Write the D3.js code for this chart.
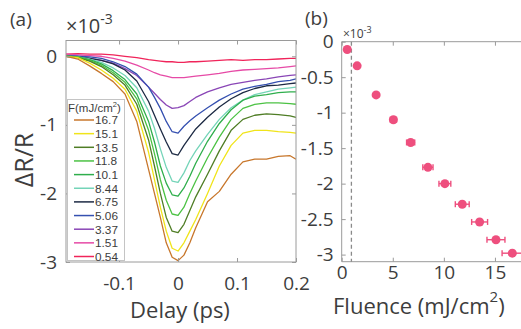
<!DOCTYPE html>
<html>
<head>
<meta charset="utf-8">
<script src="https://cdn.jsdelivr.net/npm/d3@7"></script>
<style>
  body { margin: 0; background: #fff; }
  svg { display: block; font-family: "Open Sans", sans-serif; }
</style>
</head>
<body>
<svg id="chart" width="521" height="329"></svg>
<script>
// ---- data (a): transient reflectivity, x1e-3 ----
var delays = [-0.19, -0.17, -0.15, -0.13, -0.11, -0.09, -0.07, -0.05, -0.04, -0.03, -0.02, -0.01, 0,
  0.01, 0.02, 0.03, 0.05, 0.07, 0.09, 0.11, 0.13, 0.15, 0.17, 0.19, 0.2];

var dR_0p54 = [0.03, 0.04, 0.03, 0.03, 0.02, 0.0, -0.02, -0.05, -0.06, -0.07, -0.08, -0.08, -0.09, -0.09, -0.08, -0.08, -0.07, -0.06, -0.05, -0.06, -0.05, -0.05, -0.04, -0.03, -0.03];
var dR_1p51 = [0.03, 0.02, 0.01, 0.0, -0.03, -0.07, -0.13, -0.2, -0.24, -0.27, -0.29, -0.31, -0.31, -0.31, -0.3, -0.29, -0.27, -0.25, -0.22, -0.2, -0.19, -0.18, -0.17, -0.15, -0.14];
var dR_3p37 = [0.01, 0.0, -0.03, -0.06, -0.1, -0.18, -0.28, -0.45, -0.54, -0.63, -0.71, -0.76, -0.75, -0.72, -0.66, -0.6, -0.52, -0.46, -0.41, -0.38, -0.35, -0.33, -0.3, -0.28, -0.27];
var dR_5p06 = [0.01, 0.0, -0.01, -0.03, -0.08, -0.15, -0.26, -0.45, -0.6, -0.76, -0.95, -1.1, -1.12, -1.02, -0.94, -0.87, -0.75, -0.64, -0.55, -0.48, -0.44, -0.41, -0.37, -0.35, -0.33];
var dR_6p75 = [0.0, -0.01, -0.03, -0.06, -0.11, -0.2, -0.36, -0.66, -0.86, -1.06, -1.25, -1.42, -1.44, -1.3, -1.18, -1.06, -0.89, -0.74, -0.62, -0.53, -0.47, -0.43, -0.42, -0.4, -0.39];
var dR_8p44 = [0.0, -0.01, -0.04, -0.09, -0.17, -0.28, -0.46, -0.8, -1.05, -1.35, -1.62, -1.82, -1.84, -1.7, -1.52, -1.38, -1.14, -0.92, -0.75, -0.64, -0.56, -0.52, -0.48, -0.46, -0.45];
var dR_10p1 = [0.0, -0.01, -0.05, -0.11, -0.21, -0.34, -0.55, -0.95, -1.25, -1.6, -1.85, -2.02, -2.04, -1.92, -1.75, -1.56, -1.24, -0.98, -0.78, -0.64, -0.58, -0.56, -0.53, -0.52, -0.52];
var dR_11p8 = [0.0, -0.01, -0.06, -0.13, -0.24, -0.38, -0.62, -1.08, -1.42, -1.8, -2.1, -2.3, -2.32, -2.2, -2.0, -1.82, -1.48, -1.18, -0.92, -0.76, -0.7, -0.68, -0.68, -0.69, -0.7];
var dR_13p5 = [0.0, -0.02, -0.07, -0.15, -0.27, -0.42, -0.7, -1.22, -1.6, -2.0, -2.35, -2.55, -2.57, -2.45, -2.25, -2.05, -1.72, -1.38, -1.08, -0.92, -0.86, -0.84, -0.85, -0.87, -0.89];
var dR_15p1 = [0.0, -0.02, -0.1, -0.2, -0.32, -0.48, -0.8, -1.4, -1.8, -2.2, -2.55, -2.8, -2.84, -2.72, -2.55, -2.38, -2.0, -1.6, -1.3, -1.12, -1.08, -1.08, -1.1, -1.11, -1.12];
var dR_16p7 = [0.0, -0.04, -0.14, -0.25, -0.37, -0.55, -0.95, -1.65, -2.0, -2.35, -2.72, -2.93, -2.98, -2.9, -2.72, -2.5, -2.12, -1.97, -1.72, -1.54, -1.5, -1.5, -1.46, -1.45, -1.5];

var legendLabels = ["16.7", "15.1", "13.5", "11.8", "10.1", "8.44", "6.75", "5.06", "3.37", "1.51", "0.54"];
var curves = [dR_16p7, dR_15p1, dR_13p5, dR_11p8, dR_10p1, dR_8p44, dR_6p75, dR_5p06, dR_3p37, dR_1p51, dR_0p54];
var colors = ["#c8772c", "#f0e41a", "#4f7d25", "#4cc244", "#2fae4c", "#74d4b8", "#1d2a44", "#3550b0", "#8a46b6", "#e64aa6", "#f0245a"];

var xTicksA = [-0.1, 0, 0.1, 0.2];
var yTicksA = [-3, -2, -1, 0];

// ---- data (b): peak dR/R vs fluence ----
var fluence = [0.54, 1.51, 3.37, 5.06, 6.75, 8.44, 10.1, 11.8, 13.5, 15.1, 16.7];
var peakDR = [-0.11, -0.34, -0.75, -1.10, -1.42, -1.77, -2.00, -2.29, -2.54, -2.79, -2.98];
var fluenceErr = [0.05, 0.12, 0.22, 0.3, 0.4, 0.5, 0.58, 0.68, 0.78, 0.88, 1.0];
var threshold = 0.95;
var xTicksB = [0, 5, 10, 15];
var yTicksB = [-3, -2.5, -2, -1.5, -1, -0.5, 0];

var svg = d3.select("#chart");
var axisGrey = "#9a9a9a", textGrey = "#3d3d3d";

function styleAxis(g, size) {
  g.select(".domain").remove();
  g.selectAll("line").attr("stroke", axisGrey);
  g.selectAll("text").attr("fill", textGrey).style("font-size", size + "px").style("font-family", "Open Sans");
}

// ================= panel (a) =================
var xA = d3.scaleLinear().domain([-0.19, 0.2]).range([66, 296]);
var yA = d3.scaleLinear().domain([-3, 0.23]).range([262, 40.5]);

svg.append("defs").append("clipPath").attr("id", "clipA")
  .append("rect").attr("x", 66).attr("y", 40.5).attr("width", 230).attr("height", 221.5);

var line = d3.line().x(function (d, i) { return xA(delays[i]); }).y(function (d) { return yA(d); });

svg.append("g").attr("clip-path", "url(#clipA)")
  .selectAll("path").data(curves.slice().reverse()).enter().append("path")
  .attr("d", line)
  .attr("fill", "none")
  .attr("stroke", function (d, i) { return colors[colors.length - 1 - i]; })
  .attr("stroke-width", 1.3)
  .attr("stroke-linejoin", "round");

svg.append("g").attr("transform", "translate(0,262)")
  .call(d3.axisBottom(xA).tickValues(xTicksA).tickSize(-4).tickPadding(15).tickFormat(function (d) { return String(d); }))
  .call(styleAxis, 19);
svg.append("g").attr("transform", "translate(0,40.5)")
  .call(d3.axisTop(xA).tickValues(xTicksA).tickSize(-4).tickFormat(""))
  .call(styleAxis, 19);
svg.append("g").attr("transform", "translate(66,0)")
  .call(d3.axisLeft(yA).tickValues(yTicksA).tickSize(-4).tickPadding(9).tickFormat(function (d) { return String(d); }))
  .call(styleAxis, 19);
svg.append("g").attr("transform", "translate(296,0)")
  .call(d3.axisRight(yA).tickValues(yTicksA).tickSize(-4).tickFormat(""))
  .call(styleAxis, 19);

svg.append("rect").attr("x", 66).attr("y", 40.5).attr("width", 230).attr("height", 221.5)
  .attr("fill", "none").attr("stroke", axisGrey).attr("stroke-width", 1);

// legend
var leg = svg.append("g").style("font-family", "'Liberation Sans', Arial, sans-serif");
leg.append("rect").attr("x", 67.5).attr("y", 99.5).attr("width", 57).attr("height", 161)
  .attr("fill", "#fff").attr("stroke", "#c4c4c4");
var lt = leg.append("text").attr("x", 68).attr("y", 111.5).attr("fill", textGrey).style("font-size", "11.5px");
lt.append("tspan").text("F(mJ/cm");
lt.append("tspan").text("2").attr("dy", -5).style("font-size", "7.5px");
lt.append("tspan").text(")").attr("dy", 5);
var le = leg.selectAll(".le").data(legendLabels).enter().append("g")
  .attr("transform", function (d, i) { return "translate(0," + (120 + i * 13.65) + ")"; });
le.append("line").attr("x1", 74).attr("x2", 94).attr("stroke", function (d, i) { return colors[i]; }).attr("stroke-width", 1.5);
le.append("text").attr("x", 95).attr("y", 4.3).text(function (d) { return d; })
  .attr("fill", textGrey).style("font-size", "11.8px");

svg.append("text").attr("x", 10).attr("y", 26).text("(a)").attr("fill", textGrey).style("font-size", "19px");
var ea = svg.append("text").attr("x", 66).attr("y", 33).attr("fill", textGrey).style("font-size", "20px");
ea.append("tspan").text("\u00d710");
ea.append("tspan").text("-3").attr("dy", -9).style("font-size", "14px");

svg.append("text").attr("transform", "translate(33,160) rotate(-90)").attr("text-anchor", "middle")
  .text("\u0394R/R").attr("fill", textGrey).style("font-size", "25px");
svg.append("text").attr("x", 180).attr("y", 318).attr("text-anchor", "middle")
  .text("Delay (ps)").attr("fill", textGrey).style("font-size", "22px");

// ================= panel (b) =================
var xB = d3.scaleLinear().domain([0, 17.6]).range([341.7, 521.5]);
var yB = d3.scaleLinear().domain([-3.1, 0]).range([261.7, 41.7]);

svg.append("g").attr("transform", "translate(0,261.7)")
  .call(d3.axisBottom(xB).tickValues(xTicksB).tickSize(-4).tickPadding(4).tickFormat(function (d) { return String(d); }))
  .call(styleAxis, 19);
svg.append("g").attr("transform", "translate(0,41.7)")
  .call(d3.axisTop(xB).tickValues(xTicksB).tickSize(-4).tickFormat(""))
  .call(styleAxis, 19);
svg.append("g").attr("transform", "translate(341.7,0)")
  .call(d3.axisLeft(yB).tickValues(yTicksB).tickSize(-4).tickPadding(8).tickFormat(function (d) { return String(d); }))
  .call(styleAxis, 19);

svg.append("path")
  .attr("d", "M341.7,41.7H522M341.7,41.7V261.7H522")
  .attr("fill", "none").attr("stroke", axisGrey);

svg.append("line").attr("x1", xB(threshold)).attr("x2", xB(threshold)).attr("y1", yB(0)).attr("y2", yB(-3.1))
  .attr("stroke", "#8a8a8a").attr("stroke-width", 1.3).attr("stroke-dasharray", "4,3");

var pink = "#ee4f7e";
var pts = svg.append("g").selectAll("g").data(fluence).enter().append("g");
pts.append("line")
  .attr("x1", function (d, i) { return xB(d - fluenceErr[i]); })
  .attr("x2", function (d, i) { return xB(d + fluenceErr[i]); })
  .attr("y1", function (d, i) { return yB(peakDR[i]); })
  .attr("y2", function (d, i) { return yB(peakDR[i]); })
  .attr("stroke", pink).attr("stroke-width", 1.4);
[-1, 1].forEach(function (s) {
  pts.append("line")
    .attr("x1", function (d, i) { return xB(d + s * fluenceErr[i]); })
    .attr("x2", function (d, i) { return xB(d + s * fluenceErr[i]); })
    .attr("y1", function (d, i) { return yB(peakDR[i]) - 3; })
    .attr("y2", function (d, i) { return yB(peakDR[i]) + 3; })
    .attr("stroke", pink).attr("stroke-width", 1.4);
});
pts.append("circle")
  .attr("cx", function (d) { return xB(d); })
  .attr("cy", function (d, i) { return yB(peakDR[i]); })
  .attr("r", 4.5).attr("fill", pink);

svg.append("text").attr("x", 305).attr("y", 25).text("(b)").attr("fill", textGrey).style("font-size", "19px");
var eb = svg.append("text").attr("x", 343).attr("y", 38).attr("fill", textGrey).style("font-size", "12px");
eb.append("tspan").text("\u00d710");
eb.append("tspan").text("-3").attr("dy", -5).style("font-size", "9px");

var fl = svg.append("text").attr("x", 333).attr("y", 314).attr("fill", textGrey).style("font-size", "22px");
fl.append("tspan").text("Fluence (mJ/cm");
fl.append("tspan").text("2").attr("dy", -12).style("font-size", "15px");
fl.append("tspan").text(")").attr("dy", 12);
</script>
</body>
</html>
